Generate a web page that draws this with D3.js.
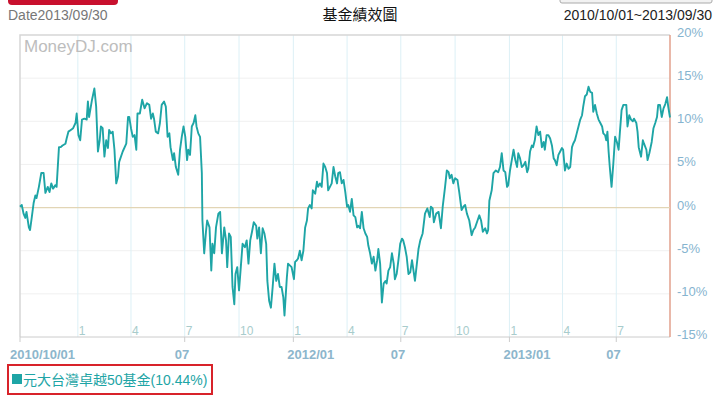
<!DOCTYPE html>
<html>
<head>
<meta charset="utf-8">
<script src="https://cdn.jsdelivr.net/npm/d3@7"></script>
<style>
  body { margin: 0; background: #fff; }
  svg text { font-family: "Liberation Sans", Arial, "Noto Sans CJK TC", sans-serif; }
</style>
</head>
<body>
<div id="chart"></div>
<script>
// fund data: [days after 2010-09-25, cumulative return %]
const startDate = new Date(2010, 8, 25);
const endDate = new Date(2013, 8, 30);

const fundSeries = [
  [0,0.1],[3,0.3],[6,-0.7],[9,-1.2],[11,-0.5],[15,-2.3],[17,-2.6],[20,-1.1],[23,0.5],[26,1.4],
  [28,1.1],[32,2.4],[36,4.0],[40,4.0],[43,1.7],[47,2.4],[50,1.8],[53,2.8],[56,2.2],[60,2.6],
  [62,2.4],[66,7.0],[69,7.0],[72,7.2],[77,7.4],[79,8.0],[82,8.8],[86,9.0],[90,9.2],[94,9.8],
  [96,10.9],[99,8.4],[102,7.8],[105,10.2],[109,10.3],[113,10.2],[115,12.3],[117,10.5],[122,12.5],[126,13.8],
  [129,11.7],[132,6.5],[135,7.8],[137,9.4],[140,9.2],[143,5.9],[146,7.8],[149,6.9],[151,9.0],[154,8.6],
  [157,8.8],[160,6.7],[163,2.8],[166,3.6],[168,5.3],[174,6.5],[180,7.4],[183,10.5],[185,10.5],[188,9.2],
  [191,8.2],[194,8.4],[197,6.7],[199,10.9],[203,10.9],[207,12.5],[211,11.5],[215,12.1],[219,11.9],[222,10.3],
  [225,10.9],[227,10.3],[230,8.8],[234,8.6],[237,9.8],[240,11.9],[244,12.3],[247,11.7],[250,8.2],[253,8.6],
  [255,7.0],[259,5.5],[261,6.3],[264,4.7],[268,3.8],[271,6.7],[274,8.2],[277,9.4],[280,8.2],[283,5.5],
  [285,6.7],[288,6.1],[291,9.4],[294,9.8],[297,10.7],[299,9.4],[302,8.6],[305,8.2],[308,4.0],[309,-1.5],
  [312,-5.3],[315,-2.8],[317,-1.5],[321,-2.3],[324,-7.3],[326,-4.2],[329,-5.3],[332,-2.3],[336,-0.7],[339,-0.5],
  [342,-5.3],[346,-2.3],[349,-3.8],[351,-6.9],[354,-3.0],[357,-3.4],[360,-9.2],[363,-11.2],[365,-7.7],[368,-6.9],
  [371,-9.6],[374,-6.9],[377,-4.2],[381,-4.6],[384,-3.8],[387,-6.5],[390,-3.8],[393,-2.8],[396,-1.7],[400,-2.1],
  [402,-3.6],[405,-2.3],[408,-5.3],[411,-2.4],[414,-3.0],[417,-4.2],[419,-8.5],[422,-10.8],[425,-11.6],[428,-9.2],
  [431,-6.5],[434,-8.5],[437,-7.7],[440,-9.2],[443,-9.2],[446,-10.4],[448,-12.5],[452,-8.1],[454,-6.5],[457,-6.7],
  [460,-6.9],[464,-8.3],[466,-6.3],[469,-6.1],[471,-5.9],[474,-5.0],[477,-6.1],[480,-5.0],[483,-2.3],[486,-1.5],
  [488,-0.1],[491,0.3],[494,-0.1],[496,2.0],[500,1.6],[503,3.0],[505,2.4],[508,2.8],[511,2.4],[514,5.1],
  [517,4.7],[520,4.0],[522,2.0],[525,2.4],[528,2.8],[531,4.7],[534,3.6],[537,2.8],[539,4.0],[542,4.1],
  [545,2.8],[548,3.2],[551,1.8],[554,0.1],[556,0.3],[559,-0.5],[562,1.0],[565,-0.9],[568,-1.1],[571,-2.3],
  [573,-2.1],[576,-2.4],[579,-0.5],[582,-2.4],[585,-3.0],[588,-3.4],[590,-4.4],[593,-5.3],[596,-6.5],[599,-5.7],
  [602,-7.3],[605,-6.1],[607,-4.8],[610,-6.5],[613,-11.0],[616,-8.8],[619,-8.5],[621,-8.8],[624,-7.3],[627,-6.9],
  [630,-5.3],[633,-6.5],[635,-8.3],[638,-7.7],[641,-6.1],[644,-4.2],[647,-3.6],[649,-3.8],[652,-4.6],[655,-5.7],
  [658,-7.7],[661,-7.5],[664,-6.1],[669,-8.5],[675,-4.8],[678,-3.8],[682,-3.0],[686,-0.7],[690,-0.1],[694,-1.1],
  [696,0.1],[699,-0.1],[701,-1.7],[705,-0.7],[709,-0.5],[713,-2.4],[716,0.1],[720,2.4],[723,4.3],[726,4.1],
  [728,3.4],[731,3.8],[734,2.8],[737,3.4],[741,3.2],[744,1.8],[748,-0.3],[751,0.1],[754,0.3],[757,-0.7],
  [761,-1.5],[765,-3.2],[768,-2.6],[771,-2.3],[775,-1.5],[778,-0.9],[781,-1.5],[784,-2.8],[788,-2.4],[791,-3.0],
  [793,-2.6],[795,0.8],[799,2.0],[802,4.0],[806,4.3],[810,4.1],[813,4.7],[816,6.3],[819,4.3],[822,4.1],
  [825,2.4],[827,2.6],[830,4.3],[833,5.5],[836,6.7],[839,5.5],[842,4.7],[844,6.3],[847,5.7],[850,4.7],
  [853,4.9],[856,5.3],[859,4.1],[861,4.5],[864,6.5],[867,7.2],[869,7.0],[872,7.8],[875,9.4],[878,8.4],
  [881,8.8],[884,7.0],[887,7.6],[889,6.7],[892,8.4],[895,8.4],[898,8.0],[901,7.2],[904,5.7],[906,5.5],
  [909,4.9],[912,6.1],[915,6.5],[918,6.9],[920,6.7],[923,4.3],[926,5.1],[929,4.5],[932,4.7],[935,7.0],
  [937,7.4],[940,7.8],[943,8.6],[946,9.4],[949,10.2],[952,10.7],[954,11.7],[957,12.9],[960,13.1],[963,14.0],
  [966,13.4],[969,13.3],[971,11.1],[974,11.9],[977,10.9],[980,10.2],[983,9.8],[986,9.4],[988,8.6],[991,8.4],
  [993,7.8],[995,8.8],[997,6.5],[999,4.7],[1002,2.4],[1005,5.1],[1008,8.2],[1011,7.6],[1014,6.7],[1016,8.6],
  [1019,11.3],[1022,11.9],[1027,11.9],[1029,9.4],[1032,10.7],[1035,10.2],[1038,10.0],[1040,10.3],[1044,9.8],[1046,8.8],
  [1048,7.0],[1052,5.9],[1055,7.8],[1057,7.4],[1061,6.7],[1063,5.5],[1066,6.3],[1070,7.6],[1073,9.2],[1076,9.8],
  [1079,10.5],[1081,11.9],[1084,11.9],[1087,10.5],[1090,11.5],[1093,12.0],[1096,12.8],[1098,11.7],[1101,10.44]
];

const yTicks = [-15, -10, -5, 0, 5, 10, 15, 20];
const quarterTicks = [
  ["2011-01-01", "1"], ["2011-04-01", "4"], ["2011-07-01", "7"], ["2011-10-01", "10"],
  ["2012-01-01", "1"], ["2012-04-01", "4"], ["2012-07-01", "7"], ["2012-10-01", "10"],
  ["2013-01-01", "1"], ["2013-04-01", "4"], ["2013-07-01", "7"]
];
const majorTicks = [
  ["2011-07-01", "07"], ["2012-01-01", "2012/01"], ["2012-07-01", "07"],
  ["2013-01-01", "2013/01"], ["2013-07-01", "07"]
];
const fundName = "元大台灣卓越50基金(10.44%)";

const parse = d3.timeParse("%Y-%m-%d");
const W = 720, H = 396;
const plotL = 20, plotR = 670, plotT = 35, plotB = 337;

const svg = d3.select("#chart").append("svg")
    .attr("width", W)
    .attr("height", H);

const x = d3.scaleTime().domain([startDate, endDate]).range([plotL, plotR]);
const y = d3.scaleLinear().domain([-15, 20]).range([plotB, plotT]);

// header bits (cut-off buttons)
svg.append("path")
    .attr("d", "M8,0 H118 V1 Q118,5 114,5 H12 Q8,5 8,1 Z")
    .attr("fill", "#c8102e");
svg.append("rect")
    .attr("x", 560).attr("y", -4).attr("width", 152).attr("height", 7).attr("rx", 2)
    .attr("fill", "#f2f2f2").attr("stroke", "#aaa");

svg.append("text")
    .attr("x", 8).attr("y", 20)
    .attr("font-size", 14).attr("fill", "#777")
    .text("Date2013/09/30");
svg.append("text")
    .attr("x", 360).attr("y", 20)
    .attr("text-anchor", "middle")
    .attr("font-size", 15).attr("fill", "#111")
    .style("font-family", "'Noto Sans CJK TC', sans-serif")
    .text("基金績效圖");
svg.append("text")
    .attr("x", 712).attr("y", 20)
    .attr("text-anchor", "end")
    .attr("font-size", 14).attr("fill", "#222")
    .text("2010/10/01~2013/09/30");

// grid
svg.append("g").selectAll("line")
    .data(yTicks.filter(d => d !== 0 && d !== 20 && d !== -15))
    .join("line")
    .attr("x1", plotL).attr("x2", plotR)
    .attr("y1", d => y(d)).attr("y2", d => y(d))
    .attr("stroke", "#f0f0f0");

svg.append("g").selectAll("line")
    .data(quarterTicks)
    .join("line")
    .attr("x1", d => x(parse(d[0]))).attr("x2", d => x(parse(d[0])))
    .attr("y1", plotT).attr("y2", plotB)
    .attr("stroke", "#dcf0f6");

svg.append("g").selectAll("text")
    .data(quarterTicks)
    .join("text")
    .attr("x", d => x(parse(d[0])) + 1)
    .attr("y", plotB - 2)
    .attr("font-size", 12).attr("fill", "#a8cccc")
    .text(d => d[1]);

// frame
svg.append("path")
    .attr("d", `M${plotL},${plotB} V${plotT} H${plotR}`)
    .attr("fill", "none").attr("stroke", "#d6d6d6").attr("stroke-width", 1.5);
svg.append("line")
    .attr("x1", plotL).attr("x2", plotR).attr("y1", plotB).attr("y2", plotB)
    .attr("stroke", "#cccccc");
svg.append("line")
    .attr("x1", plotR).attr("x2", plotR).attr("y1", plotT).attr("y2", plotB)
    .attr("stroke", "#e2a08c").attr("stroke-width", 1.5);

// zero line
svg.append("line")
    .attr("x1", plotL).attr("x2", plotR).attr("y1", y(0)).attr("y2", y(0))
    .attr("stroke", "#e2d5b5").attr("stroke-width", 1.2);

// watermark
svg.append("text")
    .attr("x", 24).attr("y", 52)
    .attr("font-size", 17).attr("fill", "#bdbdbd")
    .text("MoneyDJ.com");

// right axis labels
svg.append("g").selectAll("text")
    .data(yTicks)
    .join("text")
    .attr("x", 677)
    .attr("y", d => y(d) + 2)
    .attr("font-size", 13).attr("fill", "#86b4cf")
    .text(d => d + "%");

// bottom ticks and labels
const majorX = [startDate].concat(majorTicks.map(d => parse(d[0])));
svg.append("g").selectAll("line")
    .data(majorX)
    .join("line")
    .attr("x1", d => x(d)).attr("x2", d => x(d))
    .attr("y1", plotB).attr("y2", plotB + 5)
    .attr("stroke", "#cccccc");

svg.append("text")
    .attr("x", 10).attr("y", 359)
    .attr("font-size", 13).attr("font-weight", "bold").attr("fill", "#8db6cc")
    .text("2010/10/01");

svg.append("g").selectAll("text")
    .data(majorTicks)
    .join("text")
    .attr("x", d => x(parse(d[0])) + (d[1].length > 2 ? -6 : -10))
    .attr("y", 359)
    .attr("font-size", 13).attr("font-weight", "bold").attr("fill", "#8db6cc")
    .text(d => d[1]);

// fund line
const line = d3.line()
    .x(d => x(d3.timeDay.offset(startDate, d[0])))
    .y(d => y(d[1]));

svg.append("path")
    .datum(fundSeries)
    .attr("d", line)
    .attr("fill", "none")
    .attr("stroke", "#1ea5a6")
    .attr("stroke-width", 1.9)
    .attr("stroke-linejoin", "round");

// legend
svg.append("rect")
    .attr("x", 8).attr("y", 365).attr("width", 204).attr("height", 29)
    .attr("fill", "none").attr("stroke", "#d8232a").attr("stroke-width", 2);
svg.append("rect")
    .attr("x", 12).attr("y", 374).attr("width", 10).attr("height", 10)
    .attr("fill", "#1ea5a6");
svg.append("text")
    .attr("x", 23).attr("y", 385)
    .attr("font-size", 14).attr("fill", "#1ea5a6")
    .style("font-family", "'Liberation Sans', 'Noto Sans CJK TC', sans-serif")
    .text(fundName);
</script>
</body>
</html>
